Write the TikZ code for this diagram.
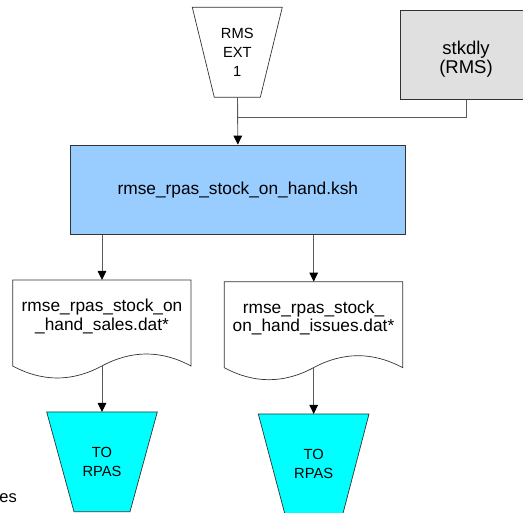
\documentclass[tikz,border=0pt]{standalone}
\usepackage{fontspec}
\setmainfont{Liberation Sans}
\usetikzlibrary{arrows.meta}
\definecolor{linegray}{HTML}{5A5A5A}
\definecolor{bordergray}{HTML}{333333}
\definecolor{boxblue}{HTML}{99CCFF}
\definecolor{boxgray}{HTML}{E0E0E0}
\definecolor{boxcyan}{HTML}{00FFFF}
\tikzset{
  conn/.style={draw=linegray, line width=0.9pt},
  arr/.style={conn, -{Triangle[length=9,width=8.5,color=black]}},
  shapeline/.style={draw=bordergray, line width=0.7pt},
  bigtxt/.style={font=\fontsize{17.3}{18.5}\selectfont, align=center, inner sep=0pt},
  smalltxt/.style={font=\fontsize{14.7}{18.8}\selectfont, align=center, inner sep=0pt},
  stktxt/.style={font=\fontsize{18.5}{19}\selectfont, align=center, inner sep=0pt},
}
\begin{document}
\begin{tikzpicture}[x=1pt,y=-1pt]
\useasboundingbox (0,0) rectangle (523,513);

% top source trapezoid
\draw[shapeline, fill=white] (192.3,7.3) -- (282.3,7.3) -- (260.3,97.3) -- (214.3,97.3) -- cycle;
\coordinate (extb) at (237.5,97.3);
\node[smalltxt] (ext) at (237.3,52.5) {RMS\\EXT\\1};

% stkdly box
\node[shapeline, fill=boxgray, minimum width=123, minimum height=89, anchor=north west, inner sep=0pt] (stk) at (399.5,10) {};
\node[stktxt] (stkt) at (466,59) {stkdly\\(RMS)};
\coordinate (join) at (237.5,117.3);

% main box
\node[shapeline, fill=boxblue, minimum width=335, minimum height=89.5, anchor=north west, inner sep=0pt, font=\fontsize{17.3}{18.5}\selectfont] (main) at (70,144.7) {rmse\_rpas\_stock\_on\_hand.ksh};

% document 1
\draw[shapeline, fill=white] (12.7,280) -- (191,280) -- (191,366)
  .. controls (161.3,350) and (131.6,350) .. (101.85,366)
  .. controls (72.1,382) and (42.4,382) .. (12.7,366) -- cycle;
\coordinate (d1t) at (102,280);
\coordinate (d1b) at (102,366);
\node[bigtxt] (d1) at (102,316.5) {rmse\_rpas\_stock\_on\\\_hand\_sales.dat*};

% document 2
\draw[shapeline, fill=white] (224.3,281.7) -- (402.7,281.7) -- (402.7,367.7)
  .. controls (373,351.7) and (343.2,351.7) .. (313.5,367.7)
  .. controls (283.8,383.7) and (254,383.7) .. (224.3,367.7) -- cycle;
\coordinate (d2t) at (313.7,281.7);
\coordinate (d2b) at (313.7,367.7);
\node[bigtxt] (d2) at (313.5,318) {rmse\_rpas\_stock\_\\on\_hand\_issues.dat*};

% bottom trapezoids
\draw[shapeline, fill=boxcyan] (46.7,412) -- (157.3,412) -- (130,511.7) -- (74,511.7) -- cycle;
\coordinate (t1t) at (102,412);
\node[smalltxt] (t1) at (102,462) {TO\\RPAS};

\draw[shapeline, fill=boxcyan] (258.3,414) -- (369,414) -- (342.7,514.5) -- (285,514.5) -- cycle;
\coordinate (t2t) at (313.7,414);
\node[smalltxt] (t2) at (313.7,464) {TO\\RPAS};

% fragment text
\node[anchor=base east, inner sep=0pt, font=\fontsize{16.5}{18}\selectfont] (es) at (17,503) {es};

% connectors
\draw[conn] (stk.south -| stkt) |- (join);
\draw[arr] (extb) -- (main.north);
\draw[arr] (main.south -| d1t) -- (d1t);
\draw[arr] (main.south -| d2t) -- (d2t);
\draw[arr] (d1b) -- (t1t);
\draw[arr] (d2b) -- (t2t);
\end{tikzpicture}
\end{document}
